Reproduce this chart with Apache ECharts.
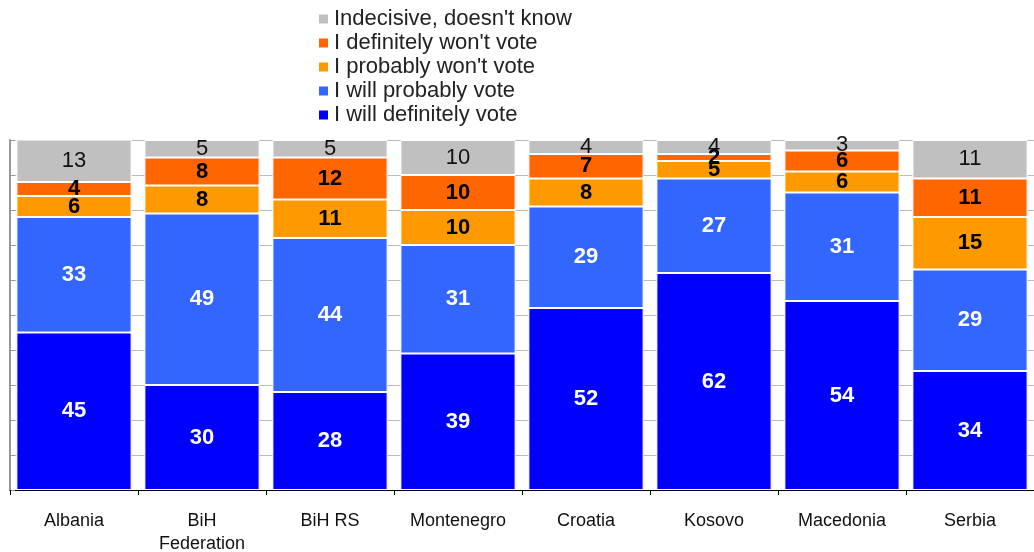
<!DOCTYPE html>
<html>
<head>
<meta charset="utf-8">
<script src="https://cdn.jsdelivr.net/npm/echarts@6/dist/echarts.min.js"></script>
<style>
  html, body { margin: 0; padding: 0; background: #fff; }
  #chart { width: 1034px; height: 552px; }
</style>
</head>
<body>
<div id="chart"></div>
<script>
var categories = ['Albania', 'BiH\nFederation', 'BiH RS', 'Montenegro', 'Croatia', 'Kosovo', 'Macedonia', 'Serbia'];
var seriesNames = ['I will definitely vote', 'I will probably vote', "I probably won't vote", "I definitely won't vote", "Indecisive, doesn't know"];
var definitelyVote = [45, 30, 28, 39, 52, 62, 54, 34];
var probablyVote = [33, 49, 44, 31, 29, 27, 31, 29];
var probablyWont = [6, 8, 11, 10, 8, 5, 6, 15];
var definitelyWont = [4, 8, 12, 10, 7, 2, 6, 11];
var indecisive = [13, 5, 5, 10, 4, 4, 3, 11];

var colors = ['#0000FF', '#3366FF', '#FF9900', '#FF6600', '#C0C0C0'];
var values = [definitelyVote, probablyVote, probablyWont, definitelyWont, indecisive];
// label colour / weight per series
var labelColor = ['#fff', '#fff', '#000', '#000', '#111'];
var labelWeight = ['bold', 'bold', 'bold', 'bold', 'normal'];

var chart = echarts.init(document.getElementById('chart'));

var series = values.map(function (v, i) {
    return {
        name: seriesNames[i],
        type: 'bar',
        stack: 'total',
        data: v,
        barCategoryGap: '10%',
        itemStyle: {
            color: colors[i],
            borderColor: '#fff',
            borderWidth: 1
        },
        label: {
            show: true,
            position: 'inside',
            color: labelColor[i],
            fontWeight: labelWeight[i],
            fontSize: 22,
            fontFamily: 'Liberation Sans, Arial, sans-serif'
        }
    };
});

var option = {
    backgroundColor: '#fff',
    animation: false,
    legend: {
        orient: 'vertical',
        left: 312,
        top: 3,
        itemWidth: 11,
        itemHeight: 11,
        itemGap: 2,
        icon: 'rect',
        data: seriesNames.slice().reverse(),
        textStyle: {
            fontSize: 22,
            color: '#222',
            fontFamily: 'Liberation Sans, Arial, sans-serif'
        }
    },
    grid: {
        left: 10,
        right: 0,
        top: 140,
        bottom: 62,
        outerBoundsMode: 'none',
        containLabel: false
    },
    xAxis: {
        type: 'category',
        data: categories,
        axisLine: { lineStyle: { color: '#000', width: 1 } },
        axisTick: { show: true, length: 5, lineStyle: { color: '#000' } },
        axisLabel: {
            color: '#111',
            fontSize: 18,
            margin: 20,
            lineHeight: 23,
            fontFamily: 'Liberation Sans, Arial, sans-serif'
        }
    },
    yAxis: {
        type: 'value',
        min: 0,
        max: 100,
        interval: 10,
        axisLine: { show: true, lineStyle: { color: '#999', width: 2 } },
        axisTick: { show: true, inside: true, length: 5, lineStyle: { color: '#999' } },
        axisLabel: { show: false },
        splitLine: { show: true, lineStyle: { color: '#bbb', width: 1 } }
    },
    series: series
};
chart.setOption(option);
</script>
</body>
</html>
